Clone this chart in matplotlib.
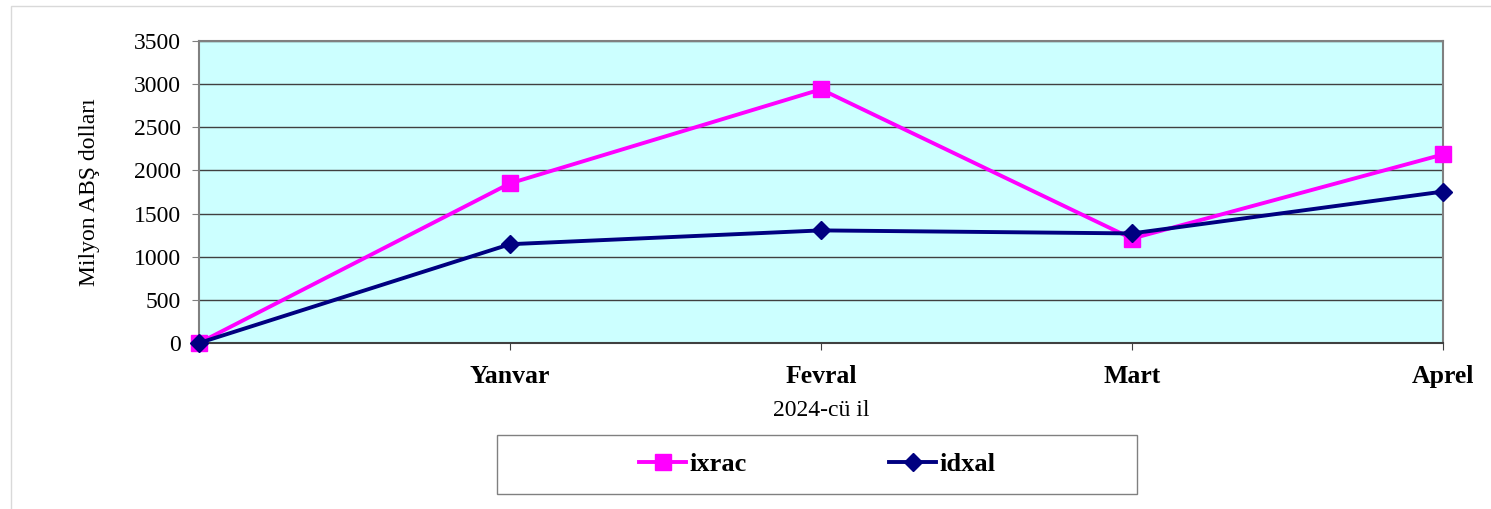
import matplotlib
matplotlib.use('Agg')
import matplotlib.pyplot as plt
import matplotlib.patches as mpatches

# ── data ─────────────────────────────────────────────────────────────────────
months = ['', 'Yanvar', 'Fevral', 'Mart', 'Aprel']
ixrac = [0, 1850, 2940, 1210, 2185]
idxal = [0, 1145, 1305, 1270, 1755]

plt.rcParams['font.family'] = ['Liberation Serif', 'DejaVu Serif']

fig = plt.figure(figsize=(14.91, 5.09), dpi=100)

# outer chart border (light grey)
fig.patches.append(mpatches.Rectangle((11 / 1491, -0.02), 1.1, 1 - 6 / 509 + 0.02,
                                      transform=fig.transFigure, fill=False,
                                      edgecolor='#d9d9d9', linewidth=1.0))

ax = fig.add_axes([199 / 1491, 1 - 343 / 509, (1443 - 199) / 1491, (343 - 41) / 509])
ax.set_facecolor('#ccffff')

x = range(len(months))
ax.plot(x, ixrac, color='#ff00ff', linewidth=2.8, marker='s', markersize=11.5,
        label='ixrac', clip_on=False, zorder=3)
ax.plot(x, idxal, color='#000080', linewidth=2.8, marker='D', markersize=9.5,
        label='idxal', clip_on=False, zorder=4)

ax.set_xlim(0, 4)
ax.set_ylim(0, 3500)
ax.set_yticks(range(0, 3501, 500))
ax.set_xticks(list(x))
ax.set_xticklabels(months, fontsize=18.5, fontweight='bold')
ax.tick_params(axis='y', labelsize=17, length=5, color='#808080', pad=8)
ax.tick_params(axis='x', length=5, color='#404040', pad=10.5)

ax.yaxis.grid(True, color='#404040', linewidth=1.0)
ax.set_axisbelow(True)
for side in ['left', 'right', 'top']:
    ax.spines[side].set_color('#808080')
    ax.spines[side].set_linewidth(1.5)
ax.spines['bottom'].set_color('#404040')
ax.spines['bottom'].set_linewidth(1.5)

ax.set_ylabel('Milyon ABŞ dolları', fontsize=17, labelpad=24)
ax.set_xlabel('2024-cü il', fontsize=17, labelpad=9)

# legend box
fig.patches.append(mpatches.Rectangle((497 / 1491, 1 - 494 / 509), (1137 - 497) / 1491,
                                      (494 - 435) / 509, transform=fig.transFigure,
                                      fill=False, edgecolor='#808080', linewidth=1.0))
fig.legend(loc='center', bbox_to_anchor=((497 + 1137) / 2 / 1491, 1 - 464.5 / 509),
           ncol=2, frameon=False, prop={'weight': 'bold', 'size': 19},
           handlelength=1.8, handletextpad=0.1, columnspacing=5.4)

fig.savefig('out.png', dpi=100)
